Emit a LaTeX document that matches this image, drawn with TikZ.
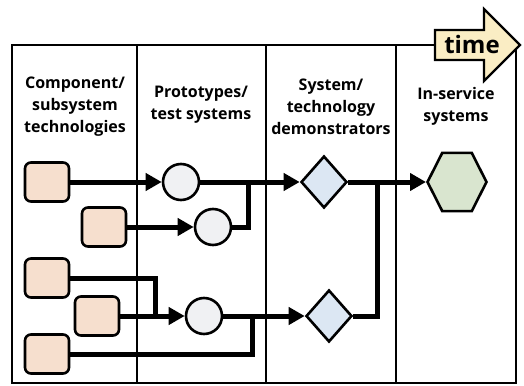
\documentclass[tikz,border=0pt]{standalone}
\usepackage{fontspec}
\setmainfont{Open Sans}
\usetikzlibrary{arrows.meta,positioning,shapes.geometric}

\definecolor{techfill}{HTML}{F6DFCE}
\definecolor{protofill}{HTML}{F0F1F3}
\definecolor{demofill}{HTML}{DCE7F3}
\definecolor{servicefill}{HTML}{D9E5CF}
\definecolor{timefill}{HTML}{FAEDC4}

\begin{document}
\begin{tikzpicture}[
    x=1pt, y=-1pt,
    tech/.style={rectangle, rounded corners=6pt, draw, line width=2.6pt, fill=techfill, minimum width=44pt, minimum height=39pt, inner sep=0pt},
    proto/.style={circle, draw, line width=2.6pt, fill=protofill, minimum size=36pt, inner sep=0pt},
    demo/.style={diamond, draw, line width=2.6pt, fill=demofill, minimum width=46pt, minimum height=52pt, inner sep=0pt},
    service/.style={regular polygon, regular polygon sides=6, draw, line width=2.6pt, fill=servicefill, minimum size=59pt, inner sep=0pt, yscale=1.14},
    head/.style={font=\bfseries\fontsize{16}{22}\selectfont, align=center, inner sep=0pt},
    arrow/.style={-{Triangle[length=16pt,width=17pt]}, line width=5pt},
    link/.style={line width=5pt}
]
\useasboundingbox (0,0) rectangle (524,385);

% stage columns
\draw[line width=2.5pt] (12,45) rectangle (516,383);
\foreach \x in {137,266,396}
  \draw[line width=2.5pt] (\x,45) -- (\x,383);

% time arrow
\draw[line width=2.2pt, fill=timefill, line join=miter]
  (435,30) -- (484,30) -- (484,9) -- (520,45) -- (484,81) -- (484,60) -- (435,60) -- cycle;
\node[font=\bfseries\fontsize{24}{24}\selectfont, inner sep=0pt] (time) at (472,45) {time};

% column headings
\node[head] (hcomp) at (75,107) {Component/\\subsystem\\technologies};
\node[head] (hproto) at (201,105) {Prototypes/\\test systems};
\node[head] (hdemo) at (331,107) {System/\\technology\\demonstrators};
\node[head] (hserv) at (456,106) {In-service\\systems};

% technologies
\node[tech] (sa) at (47,182) {};
\node[tech] (sb) at (104,227) {};
\node[tech] (sc) at (47,278) {};
\node[tech] (sd) at (97,316) {};
\node[tech] (se) at (47,354) {};

% prototypes, demonstrators, in-service
\node[proto] (pa) at (181,182) {};
\node[proto] (pb) at (213,227) {};
\node[proto] (pc) at (204,316) {};
\node[demo] (da) at (324,182) {};
\node[demo] (db) at (329,316) {};
\node[service] (sv) at (457,182) {};

% junctions
\coordinate (ja) at (248,182);
\coordinate (jb) at (377,182);
\coordinate (jc) at (155,316);
\coordinate (jd) at (252,316);

\draw[arrow] (sa) -- (pa);
\draw[arrow] (sb) -- (pb);
\draw[arrow] (pa) -- (da);
\draw[link] (pb) -| (ja);
\draw[arrow] (da) -- (sv);
\draw[link] (db) -| (jb);
\draw[link] (sc) -| (jc);
\draw[arrow] (sd) -- (pc);
\draw[arrow] (pc) -- (db);
\draw[link] (se) -| (jd);
\end{tikzpicture}
\end{document}
